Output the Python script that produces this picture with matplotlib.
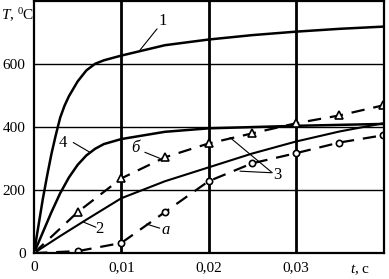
import matplotlib.pyplot as plt
import numpy as np

plt.rcParams['font.family'] = ['Liberation Serif', 'DejaVu Serif']
plt.rcParams['mathtext.fontset'] = 'custom'
plt.rcParams['mathtext.rm'] = 'Liberation Serif'
plt.rcParams['mathtext.it'] = 'Liberation Serif:italic'

# curve 1 (solid)
t1 = [0, 0.0005, 0.001, 0.0015, 0.002, 0.0025, 0.003, 0.0035, 0.004, 0.005, 0.006,
      0.007, 0.008, 0.01, 0.015, 0.02, 0.025, 0.03, 0.035, 0.04]
T1 = [0, 85, 170, 245, 315, 375, 430, 468, 498, 545, 580, 601, 612, 627, 660, 678,
      692, 703, 712, 719]

# curve 4 (solid)
t4 = [0, 0.001, 0.002, 0.003, 0.004, 0.005, 0.006, 0.007, 0.008, 0.01, 0.015, 0.02,
      0.03, 0.04]
T4 = [0, 65, 130, 190, 240, 280, 310, 331, 346, 362, 385, 396, 404, 410]

# curve 2 (solid)
t2 = [0, 0.003, 0.006, 0.01, 0.015, 0.02, 0.025, 0.03, 0.035, 0.04]
T2 = [0, 54, 106, 174, 228, 272, 316, 354, 386, 412]

# curve b (dashed, triangles)
tb = [0, 0.005, 0.01, 0.015, 0.02, 0.025, 0.03, 0.035, 0.04]
Tb = [0, 130, 237, 304, 348, 380, 412, 437, 469]

# curve a (dashed, circles)
ta = [0, 0.005, 0.01, 0.015, 0.02, 0.025, 0.03, 0.035, 0.04]
Ta = [0, 6, 32, 130, 228, 285, 317, 351, 374]

xticks = [0, 0.01, 0.02, 0.03]
xticklabels = ['0', '0,01', '0,02', '0,03']
yticks = [0, 200, 400, 600]

fig = plt.figure(figsize=(3.89, 2.79), dpi=100)
ax = fig.add_axes([0.0874, 0.093, 0.8997, 0.903])

ax.plot(t1, T1, color='black', lw=1.8)
ax.plot(t4, T4, color='black', lw=1.8)
ax.plot(t2, T2, color='black', lw=1.5)
ax.plot(tb, Tb, color='black', lw=1.6, dashes=(6, 4), marker='^', ms=6,
        mfc='white', mec='black', mew=1.2)
ax.plot(ta, Ta, color='black', lw=1.6, dashes=(6, 4), marker='o', ms=4.5,
        mfc='white', mec='black', mew=1.2)

ax.set_xlim(0, 0.0401)
ax.set_ylim(0, 800)
ax.set_xticks(xticks)
ax.set_xticklabels(xticklabels)
ax.set_yticks(yticks)
ax.tick_params(length=0, labelsize=11, pad=6)
for s in ax.spines.values():
    s.set_linewidth(1.6)

for x in xticks[1:]:
    ax.axvline(x, color='black', lw=2.0, zorder=0)
for y in yticks[1:]:
    ax.axhline(y, color='black', lw=1.0, zorder=0)

# curve labels with leader lines
lab = dict(fontsize=12, ha='center', va='center')
line = dict(arrowstyle='-', color='black', lw=0.8, shrinkA=0, shrinkB=0)
ax.text(0.0148, 738, '1', **lab)
ax.annotate('', xy=(0.0121, 643), xytext=(0.0141, 712), arrowprops=line)
ax.text(0.0033, 351, '4', **lab)
ax.annotate('', xy=(0.0064, 320), xytext=(0.0045, 351), arrowprops=line)
ax.text(0.0116, 334, 'б', style='italic', **lab)
ax.annotate('', xy=(0.0144, 301), xytext=(0.0127, 320), arrowprops=line)
ax.text(0.0075, 76, '2', **lab)
ax.annotate('', xy=(0.0057, 98), xytext=(0.0071, 82), arrowprops=line)
ax.text(0.0151, 73, 'а', style='italic', **lab)
ax.annotate('', xy=(0.0129, 92), xytext=(0.0144, 79), arrowprops=line)
ax.text(0.0279, 247, '3', **lab)
ax.annotate('', xy=(0.02245, 367), xytext=(0.0273, 255), arrowprops=line)
ax.annotate('', xy=(0.0236, 260), xytext=(0.0272, 255), arrowprops=line)

fig.text(0.002, 0.945, r'$T$, $^0$C', fontsize=11, ha='left', va='center')
fig.text(0.925, 0.035, r'$t$, с', fontsize=11, ha='center', va='center')

plt.savefig('out.png', dpi=100)
